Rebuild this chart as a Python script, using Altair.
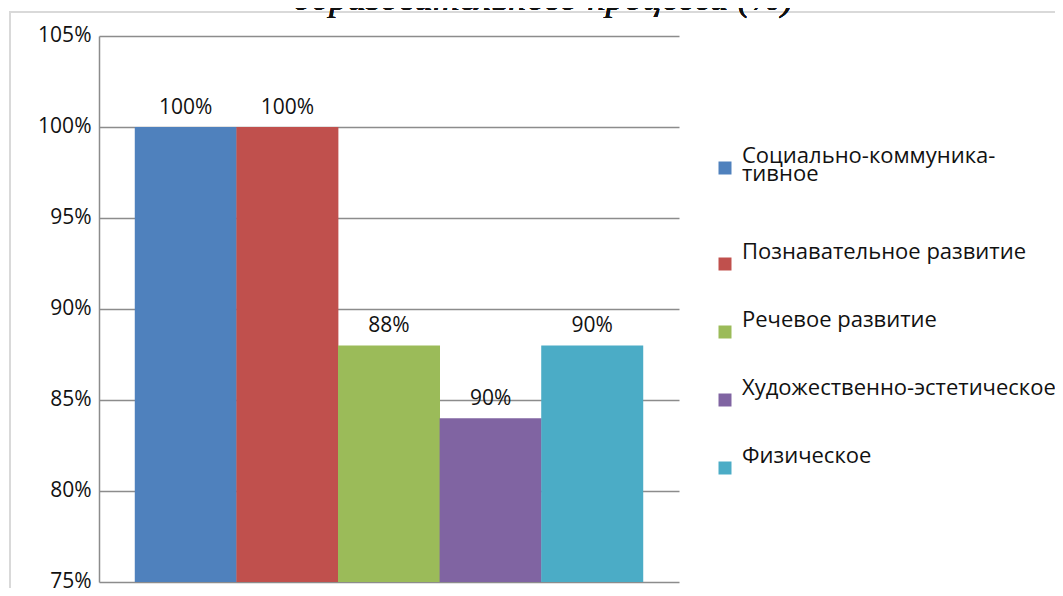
import altair as alt
import pandas as pd

categories = [
    "Социально-коммуникативное",
    "Познавательное развитие",
    "Речевое развитие",
    "Художественно-эстетическое",
    "Физическое",
]
values = [1.00, 1.00, 0.88, 0.84, 0.88]
value_labels = ["100%", "100%", "88%", "90%", "90%"]
colors = ["#4F81BD", "#C0504D", "#9BBB59", "#8064A2", "#4BACC6"]
y_ticks = [0.75, 0.80, 0.85, 0.90, 0.95, 1.00, 1.05]
title_text = "образовательного процесса (%)"

df = pd.DataFrame({"cat": categories, "value": values, "label": value_labels, "base": [0.75] * 5})

FONT = "Open Sans"
W, H = 580, 546
LABEL_DY = -5

xenc = alt.X("cat:N", sort=categories,
             scale=alt.Scale(paddingInner=0, paddingOuter=0.354),
             axis=None)
yscale = alt.Scale(domain=[0.75, 1.05], nice=False, zero=False)

frame = alt.Chart(df).mark_rect(filled=False, stroke="#d9d9d9", strokeWidth=1.5).encode(
    x=alt.value(-89), x2=alt.value(980), y=alt.value(-24), y2=alt.value(580)
)

bars = alt.Chart(df).mark_bar(size=102).encode(
    x=xenc,
    y=alt.Y("value:Q", scale=yscale,
            axis=alt.Axis(values=y_ticks, format=".0%", title=None, ticks=False,
                          labelPadding=8, labelFont=FONT, labelFontSize=21,
                          labelOffset=-LABEL_DY - 1,
                          labelColor="#111", grid=True, gridColor="#8c8c8c",
                          gridWidth=1.5, domainColor="#8c8c8c", domainWidth=1.5)),
    y2="base:Q",
    color=alt.Color("cat:N", sort=categories,
                    scale=alt.Scale(domain=categories, range=colors),
                    legend=alt.Legend(
                        title=None, orient="none", legendX=615, legendY=121,
                        symbolType="square", symbolSize=169, symbolStrokeWidth=0,
                        symbolOpacity=1, labelFont=FONT, labelFontSize=22,
                        labelColor="#111", labelLimit=400, labelBaseline="alphabetic",
                        rowPadding=38, labelOffset=6, padding=0,
                        labelExpr="datum.label == 'Социально-коммуникативное' ? ['Социально-коммуника-', 'тивное', ''] : datum.label",
                    )),
)

texts = alt.Chart(df).mark_text(font=FONT, fontSize=21, color="#111", dy=-19, baseline="middle").encode(
    x=xenc,
    y=alt.Y("value:Q", scale=yscale),
    text="label:N",
)

title = alt.Chart(df).mark_text(font="Liberation Serif", fontStyle="italic", fontWeight="normal",
                                fontSize=37, color="#111", align="center",
                                baseline="alphabetic").encode(
    x=alt.value(444), y=alt.value(-26), text=alt.datum(title_text)
)

chart = alt.layer(frame, bars, texts, title).properties(
    width=W, height=H,
    autosize=alt.AutoSizeParams(type="none"),
    padding={"left": 91, "top": 28, "right": 376, "bottom": 6},
).configure(
    style={"guide-label": {"lineHeight": 18, "dy": LABEL_DY}}
).configure_view(stroke=None).configure_axisX(grid=False)

chart.save("out.html", embed_options={"renderer": "svg", "actions": False})
